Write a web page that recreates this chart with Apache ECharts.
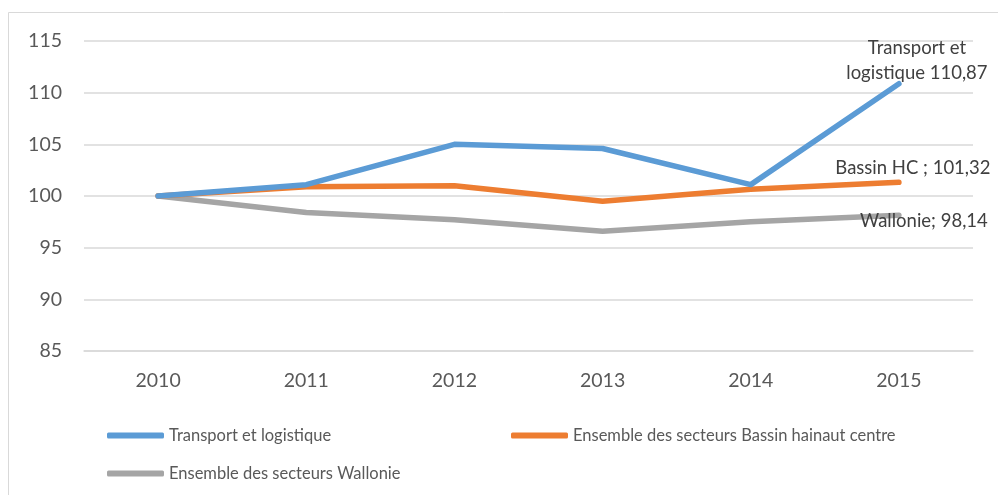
<!DOCTYPE html>
<html>
<head>
<meta charset="utf-8">
<script src="https://cdn.jsdelivr.net/npm/echarts@6/dist/echarts.min.js"></script>
<style>
  html, body { margin: 0; padding: 0; background: #fff; }
  #chart { width: 998px; height: 495px; }
</style>
</head>
<body>
<div id="chart"></div>
<script>
// données (indice 2010 = 100)
var years = ['2010', '2011', '2012', '2013', '2014', '2015'];
var transport = [100, 101.1, 105, 104.6, 101.1, 110.87];
var bassin = [100, 100.9, 101, 99.5, 100.65, 101.32];
var wallonie = [100, 98.4, 97.7, 96.6, 97.5, 98.14];

var names = ['Transport et logistique', 'Ensemble des secteurs Bassin hainaut centre', 'Ensemble des secteurs Wallonie'];
var endLabels = ['Transport et\nlogistique 110,87', 'Bassin HC ; 101,32', 'Wallonie; 98,14'];
var colors = ['#5B9BD5', '#ED7D31', '#A5A5A5'];

var font = 'Lato, "Open Sans", sans-serif';

// seule la dernière valeur porte une étiquette
function withLabel(values, text, offset) {
  return values.map(function (v, i) {
    if (i !== values.length - 1) return v;
    return {
      value: v,
      label: {
        show: true,
        position: 'top',
        offset: offset,
        formatter: text,
        fontFamily: font,
        fontSize: 18.5,
        lineHeight: 25,
        color: '#404040'
      }
    };
  });
}

function makeSeries(idx, values, offset) {
  return {
    name: names[idx],
    type: 'line',
    data: withLabel(values, endLabels[idx], offset),
    symbol: 'circle',
    symbolSize: 0,
    showSymbol: true,
    lineStyle: { color: colors[idx], width: 5.5, cap: 'round', join: 'round' },
    itemStyle: { color: colors[idx] },
    z: 3 - idx
  };
}

function legendFor(idx, left, top) {
  return {
    data: [names[idx]],
    left: left,
    top: top,
    icon: 'roundRect',
    itemWidth: 57,
    itemHeight: 6,
    selectedMode: false,
    textStyle: { fontFamily: font, fontSize: 16.5, color: '#595959' }
  };
}

var myChart = echarts.init(document.getElementById('chart'));
var option = {
  animation: false,
  backgroundColor: '#fff',
  graphic: [{
    type: 'rect',
    shape: { x: 8.5, y: 12.5, width: 1000, height: 500 },
    style: { fill: 'none', stroke: '#D9D9D9', lineWidth: 1 },
    silent: true
  }],
  grid: { left: 84, right: 25, top: 41, bottom: 144 },
  legend: [
    legendFor(0, 102, 422),
    legendFor(1, 506, 422),
    legendFor(2, 102, 460)
  ],
  xAxis: {
    type: 'category',
    data: years,
    boundaryGap: true,
    axisLine: { show: true, lineStyle: { color: '#D9D9D9', width: 1.5 } },
    axisTick: { show: false },
    axisLabel: { fontFamily: font, fontSize: 19.5, color: '#595959', margin: 20 }
  },
  yAxis: {
    type: 'value',
    min: 85,
    max: 115,
    interval: 5,
    axisLine: { show: false },
    axisTick: { show: false },
    splitLine: { lineStyle: { color: '#D9D9D9', width: 1.5 } },
    axisLabel: { fontFamily: font, fontSize: 19.5, color: '#595959', margin: 22 }
  },
  series: [
    makeSeries(0, transport, [18, 7]),
    makeSeries(1, bassin, [14, 3]),
    makeSeries(2, wallonie, [25, 23])
  ]
};
option && myChart.setOption(option);
</script>
</body>
</html>
